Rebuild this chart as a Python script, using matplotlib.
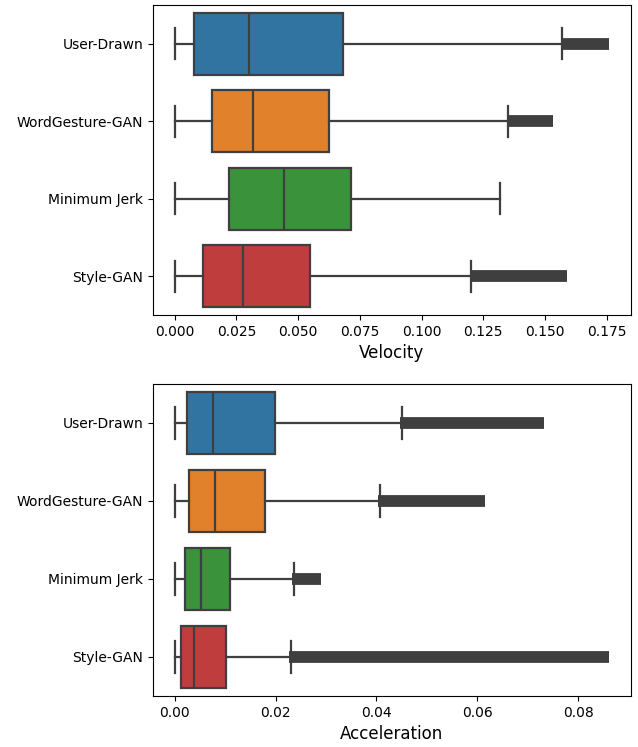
import matplotlib
matplotlib.use("Agg")
import matplotlib.pyplot as plt

categories = ["User-Drawn", "WordGesture-GAN", "Minimum Jerk", "Style-GAN"]
colors = ["#3274a1", "#e1812c", "#3a923a", "#c03d3e"]

# Velocity stats
vel_wlo = [0.0, 0.0, 0.0, 0.0]
vel_q1 = [0.0078, 0.0149, 0.0219, 0.0114]
vel_med = [0.0299, 0.0317, 0.0442, 0.0277]
vel_q3 = [0.0681, 0.0626, 0.0716, 0.0548]
vel_whi = [0.1569, 0.1350, 0.1316, 0.1200]
vel_flo = [0.1565, 0.1347, None, 0.1197]
vel_fhi = [0.1760, 0.1531, None, 0.1590]

# Acceleration stats
acc_wlo = [0.0, 0.0, 0.0, 0.0]
acc_q1 = [0.0025, 0.0028, 0.0020, 0.0013]
acc_med = [0.00755, 0.0079, 0.0053, 0.0038]
acc_q3 = [0.0198, 0.0180, 0.0110, 0.0102]
acc_whi = [0.0450, 0.0407, 0.0236, 0.0230]
acc_flo = [0.0447, 0.0404, 0.0233, 0.0227]
acc_fhi = [0.0732, 0.0615, 0.0291, 0.0862]

line_color = "#3f3f3f"


def draw(ax, wlo, q1, med, q3, whi, flo, fhi, xlabel):
    stats = []
    for i in range(len(categories)):
        stats.append(dict(whislo=wlo[i], q1=q1[i], med=med[i], q3=q3[i],
                          whishi=whi[i], fliers=[], label=categories[i]))
    pos = list(range(len(categories)))
    bp = ax.bxp(stats, positions=pos, widths=0.8, vert=False, patch_artist=True,
                showfliers=False,
                boxprops=dict(edgecolor=line_color, linewidth=1.6),
                medianprops=dict(color=line_color, linewidth=1.6),
                whiskerprops=dict(color=line_color, linewidth=1.6),
                capprops=dict(color=line_color, linewidth=1.6))
    for patch, c in zip(bp["boxes"], colors):
        patch.set_facecolor(c)
    for i in range(len(categories)):
        if flo[i] is not None:
            ax.plot([flo[i], fhi[i]], [pos[i], pos[i]], color=line_color,
                    linewidth=8.5, solid_capstyle="butt", zorder=1)
    ax.set_ylim(len(categories) - 0.5, -0.5)
    ax.set_yticks(pos)
    ax.set_yticklabels(categories)
    ax.margins(x=0.05)
    ax.set_xlabel(xlabel, fontsize=12)
    ax.tick_params(labelsize=10)


fig = plt.figure(figsize=(6.38, 7.47), dpi=100)
ax1 = fig.add_axes([0.2398, 0.5783, 0.989 - 0.2398, 0.9933 - 0.5783])
ax2 = fig.add_axes([0.2398, 0.0683, 0.989 - 0.2398, 0.486 - 0.0683])

draw(ax1, vel_wlo, vel_q1, vel_med, vel_q3, vel_whi, vel_flo, vel_fhi, "Velocity")
draw(ax2, acc_wlo, acc_q1, acc_med, acc_q3, acc_whi, acc_flo, acc_fhi, "Acceleration")

ax1.set_xticks([0.0, 0.025, 0.05, 0.075, 0.1, 0.125, 0.15, 0.175])
ax1.set_xticklabels(["0.000", "0.025", "0.050", "0.075", "0.100", "0.125", "0.150", "0.175"])
ax2.set_xticks([0.0, 0.02, 0.04, 0.06, 0.08])
ax2.set_xticklabels(["0.00", "0.02", "0.04", "0.06", "0.08"])

fig.savefig("out.png", dpi=100)
